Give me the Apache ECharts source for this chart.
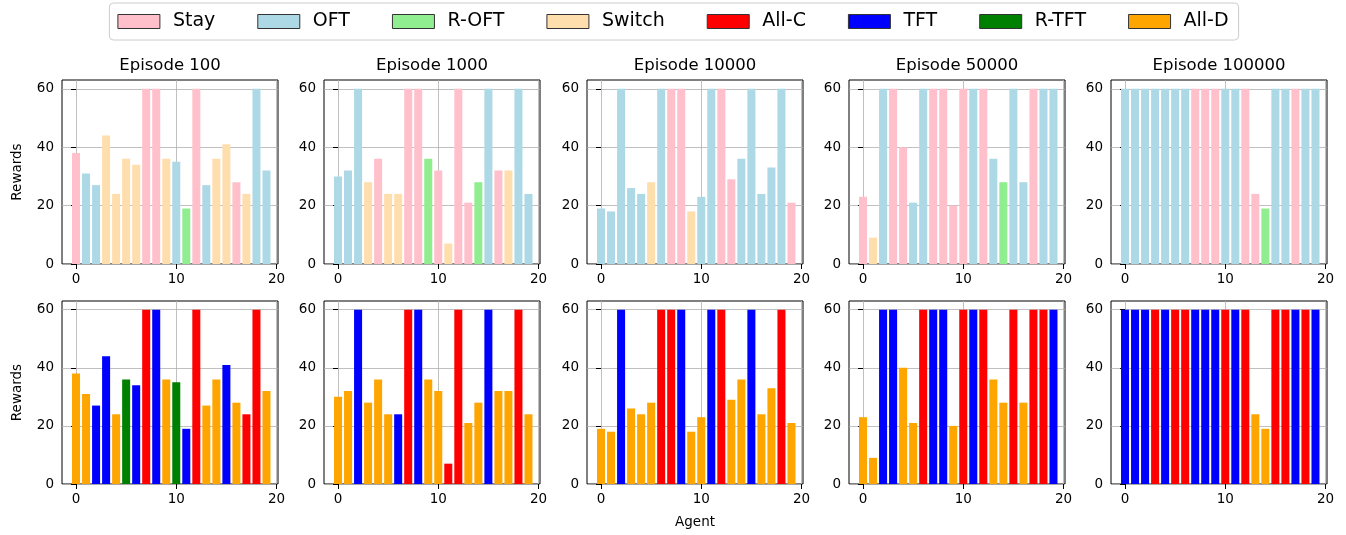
<!DOCTYPE html>
<html>
<head>
<meta charset="utf-8">
<script src="https://cdn.jsdelivr.net/npm/echarts@6/dist/echarts.min.js"></script>
<style>html,body{margin:0;padding:0;background:#fff}#chart{width:1346px;height:535px}</style>
</head>
<body>
<div id="chart"></div>
<script>
const episodes = ['Episode 100', 'Episode 1000', 'Episode 10000', 'Episode 50000', 'Episode 100000'];
const agents = [0,1,2,3,4,5,6,7,8,9,10,11,12,13,14,15,16,17,18,19];
const xTicks = [0, 10, 20];
const yTicks = [0, 20, 40, 60];

const rewards100    = [38,31,27,44,24,36,34,60,60,36,35,19,60,27,36,41,28,24,60,32];
const rewards1000   = [30,32,60,28,36,24,24,60,60,36,32,7,60,21,28,60,32,32,60,24];
const rewards10000  = [19,18,60,26,24,28,60,60,60,18,23,60,60,29,36,60,24,33,60,21];
const rewards50000  = [23,9,60,60,40,21,60,60,60,20,60,60,60,36,28,60,28,60,60,60];
const rewards100000 = [60,60,60,60,60,60,60,60,60,60,60,60,60,24,19,60,60,60,60,60];

const move100    = ['Stay','OFT','OFT','Switch','Switch','Switch','Switch','Stay','Stay','Switch','OFT','R-OFT','Stay','OFT','Switch','Switch','Stay','Switch','OFT','OFT'];
const move1000   = ['OFT','OFT','OFT','Switch','Stay','Switch','Switch','Stay','Stay','R-OFT','Stay','Switch','Stay','Stay','R-OFT','OFT','Stay','Switch','OFT','OFT'];
const move10000  = ['OFT','OFT','OFT','OFT','OFT','Switch','OFT','Stay','Stay','Switch','OFT','OFT','Stay','Stay','OFT','OFT','OFT','OFT','OFT','Stay'];
const move50000  = ['Stay','Switch','OFT','Stay','Stay','OFT','OFT','Stay','Stay','Stay','Stay','OFT','Stay','OFT','R-OFT','OFT','OFT','Stay','OFT','OFT'];
const move100000 = ['OFT','OFT','OFT','OFT','OFT','OFT','OFT','Stay','Stay','Stay','OFT','OFT','Stay','Stay','R-OFT','OFT','OFT','Stay','OFT','OFT'];

const play100    = ['All-D','All-D','TFT','TFT','All-D','R-TFT','TFT','All-C','TFT','All-D','R-TFT','TFT','All-C','All-D','All-D','TFT','All-D','All-C','All-C','All-D'];
const play1000   = ['All-D','All-D','TFT','All-D','All-D','All-D','TFT','All-C','TFT','All-D','All-D','All-C','All-C','All-D','All-D','TFT','All-D','All-D','All-C','All-D'];
const play10000  = ['All-D','All-D','TFT','All-D','All-D','All-D','All-C','All-C','TFT','All-D','All-D','TFT','All-C','All-D','All-D','TFT','All-D','All-D','All-C','All-D'];
const play50000  = ['All-D','All-D','TFT','TFT','All-D','All-D','All-C','TFT','TFT','All-D','All-C','TFT','All-C','All-D','All-D','All-C','All-D','All-C','All-C','TFT'];
const play100000 = ['TFT','TFT','TFT','All-C','TFT','All-C','All-C','TFT','TFT','TFT','All-C','TFT','All-C','All-D','All-D','All-C','All-C','TFT','All-C','TFT'];

const moveNames = ['Stay', 'OFT', 'R-OFT', 'Switch'];
const playNames = ['All-C', 'TFT', 'R-TFT', 'All-D'];
const colors = {
  'Stay': '#FFC0CB', 'OFT': '#ADD8E6', 'R-OFT': '#90EE90', 'Switch': '#FFDEAD',
  'All-C': '#FF0000', 'TFT': '#0000FF', 'R-TFT': '#008000', 'All-D': '#FFA500'
};

const rewards = [rewards100, rewards1000, rewards10000, rewards50000, rewards100000];
const moves = [move100, move1000, move10000, move50000, move100000];
const plays = [play100, play1000, play10000, play50000, play100000];

const FONT = 'DejaVu Sans';
const lefts = [62, 324, 587, 849, 1111];
const gw = 216;
const tops = [80, 301];
const gh = [184, 183];
const xMin = -1.4, xMax = 20.15;
const barW = gw / (xMax - xMin) * 0.8;

const grids = [], xAxes = [], yAxes = [], series = [], titles = [];
for (let r = 0; r < 2; r++) {
  for (let c = 0; c < 5; c++) {
    const gi = r * 5 + c;
    grids.push({left: lefts[c], top: tops[r], width: gw, height: gh[r], show: true,
      borderColor: '#000', borderWidth: 1, backgroundColor: 'transparent', containLabel: false});
    xAxes.push({
      type: 'value', gridIndex: gi, min: xMin, max: xMax,
      name: (r === 1 && c === 2) ? 'Agent' : '', nameLocation: 'middle', nameGap: 31,
      nameTextStyle: {fontFamily: FONT, fontSize: 13.5, color: '#000'},
      axisLine: {show: false},
      axisTick: {show: true, customValues: xTicks, length: 5, lineStyle: {color: '#000', width: 1}},
      axisLabel: {customValues: xTicks, fontFamily: FONT, fontSize: 13.5, color: '#000', margin: 8},
      splitLine: {show: true, lineStyle: {color: '#b0b0b0', width: 0.8}}
    });
    yAxes.push({
      type: 'value', gridIndex: gi, min: 0, max: 63,
      name: c === 0 ? 'Rewards' : '', nameLocation: 'middle', nameGap: 38,
      nameTextStyle: {fontFamily: FONT, fontSize: 13.5, color: '#000'},
      axisLine: {show: false},
      axisTick: {show: true, customValues: yTicks, length: 5, lineStyle: {color: '#000', width: 1}},
      axisLabel: {customValues: yTicks, fontFamily: FONT, fontSize: 13.5, color: '#000', margin: 8},
      splitLine: {show: true, lineStyle: {color: '#b0b0b0', width: 0.8}}
    });
    const names = r === 0 ? moveNames : playNames;
    const labels = r === 0 ? moves[c] : plays[c];
    names.forEach(nm => {
      series.push({
        type: 'bar', name: nm, xAxisIndex: gi, yAxisIndex: gi,
        barWidth: barW, barGap: '-100%',
        itemStyle: {color: colors[nm]},
        data: agents.filter(i => labels[i] === nm).map(i => [agents[i], rewards[c][i]]),
        animation: false
      });
    });
  }
}
episodes.forEach((t, c) => {
  titles.push({text: t, left: lefts[c] + gw / 2, top: 57, textAlign: 'center', padding: 0,
    textStyle: {fontFamily: FONT, fontSize: 16.5, fontWeight: 'normal', color: '#000'}});
});

const chart = echarts.init(document.getElementById('chart'), null, {renderer: 'canvas'});
chart.setOption({
  animation: false,
  title: titles,
  legend: {
    data: moveNames.concat(playNames).map(n => ({name: n, icon: 'rect'})),
    left: 'center', top: 3,
    itemWidth: 42, itemHeight: 14, itemGap: 42,
    padding: [9, 10, 9, 8],
    borderColor: '#cccccc', borderWidth: 1, borderRadius: 4,
    itemStyle: {borderColor: '#333', borderWidth: 1},
    textStyle: {fontFamily: FONT, fontSize: 19, color: '#000', padding: [0, 0, 0, 8]}
  },
  grid: grids, xAxis: xAxes, yAxis: yAxes, series: series
});
</script>
</body>
</html>
